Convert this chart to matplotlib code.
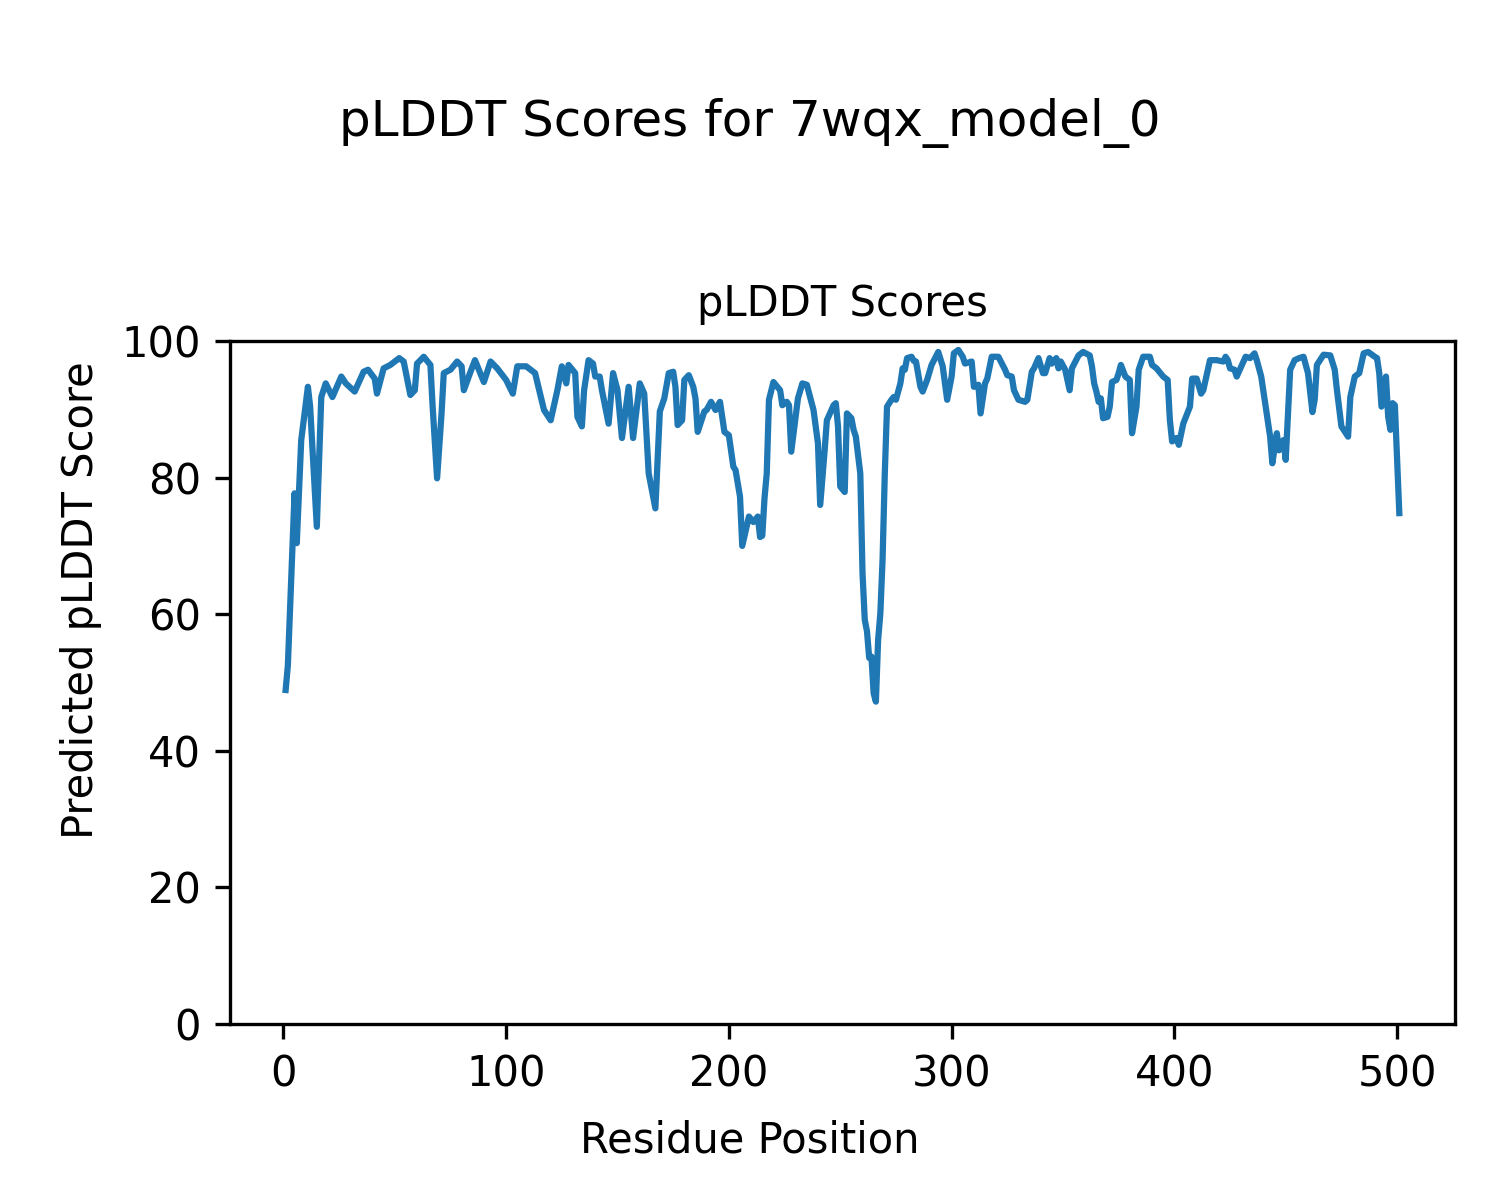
import matplotlib
matplotlib.use("Agg")
import matplotlib.pyplot as plt

# residue positions and pLDDT values (line vertices)
residues = [
    1, 2, 5, 6, 8, 11, 12, 15, 17, 19, 22, 26, 28, 32, 36, 38, 41, 42, 45, 48,
    52, 54, 57, 59, 60, 63, 66, 67, 69, 71, 72, 75, 78, 80, 81, 84, 86, 90, 93, 96,
    100, 103, 105, 109, 113, 117, 120, 123, 125, 127, 128, 131, 132, 134, 135, 137, 139, 140, 142, 143,
    146, 148, 150, 152, 155, 157, 160, 162, 164, 167, 169, 171, 173, 175, 176, 177, 179, 180, 182, 184,
    185, 186, 189, 190, 192, 194, 196, 198, 200, 202, 203, 205, 206, 209, 211, 213, 214, 215, 216, 217,
    218, 220, 223, 224, 226, 227, 228, 231, 233, 235, 238, 240, 241, 243, 244, 247, 248, 249, 250, 252,
    253, 255, 256, 257, 259, 260, 261, 262, 263, 264, 265, 266, 267, 268, 269, 270, 271, 273, 274, 275,
    277, 278, 279, 280, 282, 283, 284, 286, 287, 289, 291, 294, 296, 298, 300, 301, 303, 305, 306, 309,
    310, 312, 313, 315, 316, 318, 321, 324, 325, 327, 328, 330, 333, 334, 336, 337, 339, 341, 342, 344,
    345, 347, 348, 349, 351, 353, 354, 357, 359, 362, 363, 364, 365, 366, 367, 368, 370, 371, 372, 374,
    375, 376, 378, 380, 381, 383, 384, 386, 389, 390, 392, 395, 397, 398, 399, 401, 402, 404, 407, 408,
    410, 412, 413, 416, 419, 422, 423, 424, 425, 427, 428, 431, 432, 434, 436, 437, 439, 441, 443, 444,
    446, 447, 449, 450, 452, 454, 456, 458, 460, 462, 463, 464, 467, 470, 472, 473, 475, 478, 479, 481,
    483, 485, 487, 490, 491, 492, 493, 495, 496, 497, 498, 499, 501,
]
plddt = [
    48.9, 52.5, 77.7, 70.4, 85.5, 93.3, 90.4, 72.8, 91.8, 93.8, 91.8, 94.8, 93.8, 92.6, 95.5, 95.8, 94.5, 92.3, 96.0, 96.5,
    97.5, 97.0, 92.1, 92.8, 96.7, 97.7, 96.5, 90.4, 79.9, 89.4, 95.3, 95.8, 97.0, 96.3, 92.8, 95.5, 97.2, 94.0, 97.0, 96.0,
    94.3, 92.3, 96.3, 96.3, 95.3, 89.9, 88.4, 92.8, 96.3, 93.8, 96.5, 95.3, 88.9, 87.5, 92.8, 97.2, 96.7, 94.8, 94.8, 92.8,
    87.9, 95.3, 92.8, 85.8, 93.3, 85.8, 93.8, 92.3, 80.6, 75.5, 89.7, 91.6, 95.3, 95.5, 93.3, 87.7, 88.4, 94.3, 95.0, 93.3,
    91.6, 86.7, 89.7, 89.9, 91.1, 89.9, 91.1, 86.7, 86.2, 81.6, 81.1, 77.2, 70.0, 74.3, 73.5, 74.3, 71.3, 71.5, 77.0, 80.6,
    91.4, 94.0, 92.8, 90.6, 91.1, 90.6, 83.8, 91.6, 93.8, 93.6, 89.9, 85.0, 76.0, 84.0, 88.4, 90.6, 90.9, 87.5, 78.7, 77.9,
    89.4, 88.7, 87.0, 86.0, 80.6, 66.0, 59.2, 57.5, 53.6, 53.8, 48.4, 47.2, 56.2, 60.1, 68.0, 80.6, 90.4, 91.4, 91.8, 91.4,
    93.8, 96.0, 95.8, 97.5, 97.7, 97.1, 97.0, 93.3, 92.6, 94.3, 96.5, 98.4, 96.3, 91.4, 94.8, 98.2, 98.7, 97.7, 96.7, 97.0,
    93.3, 93.6, 89.4, 93.8, 94.5, 97.7, 97.7, 95.8, 95.0, 94.8, 92.8, 91.4, 91.1, 91.4, 95.5, 96.0, 97.5, 95.3, 95.3, 97.5,
    96.7, 97.5, 96.0, 97.0, 95.8, 92.8, 96.0, 97.9, 98.4, 97.9, 96.3, 93.8, 92.6, 91.1, 91.6, 88.7, 88.9, 90.4, 94.0, 94.3,
    95.3, 96.5, 94.8, 94.3, 86.5, 90.4, 95.8, 97.7, 97.7, 96.5, 96.0, 94.8, 94.3, 88.4, 85.3, 85.8, 84.8, 87.9, 90.4, 94.5,
    94.5, 92.3, 92.8, 97.2, 97.2, 97.0, 97.7, 97.2, 96.0, 95.8, 94.8, 97.0, 97.7, 97.5, 98.2, 97.2, 94.8, 90.4, 86.0, 82.1,
    86.5, 84.0, 85.5, 82.6, 95.8, 97.2, 97.5, 97.7, 95.3, 89.6, 91.4, 96.5, 98.0, 97.9, 95.8, 92.8, 87.5, 86.0, 91.8, 94.8,
    95.3, 98.2, 98.4, 97.7, 97.5, 95.3, 90.4, 94.8, 88.9, 87.0, 90.9, 90.6, 74.8,
]

model_name = "7wqx_model_0"

fig = plt.figure(figsize=(5, 4), dpi=300)
ax = fig.add_axes([0.1533, 0.1467, 0.8167, 0.5691])
fig.suptitle(f"pLDDT Scores for {model_name}", fontsize=12, y=0.918)

ax.plot(residues, plddt, color="tab:blue", linewidth=1.5)
ax.set_ylim(0, 100)
ax.set_title("pLDDT Scores", fontsize=10)

# axis labels are figure-level in the reference (centred on the figure)
fig.supxlabel("Residue Position", fontsize=10, y=0.032)
fig.supylabel("Predicted pLDDT Score", fontsize=10, x=0.04)

fig.savefig("out.png", dpi=300)
